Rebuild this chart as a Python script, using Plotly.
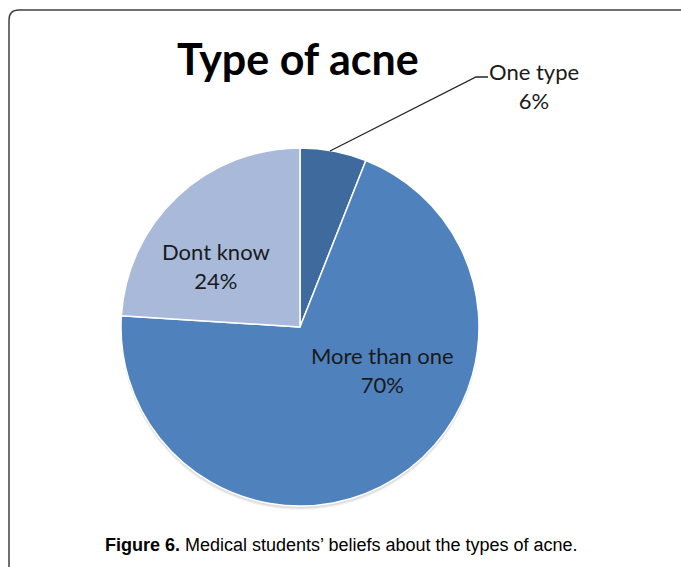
import plotly.graph_objects as go

# Survey answers: how many types of acne exist?
categories = ["One type", "More than one", "Dont know"]
shares = [6, 70, 24]
colors = ["#3F6A9E", "#4F81BD", "#A8B9D9"]

W, H = 681, 567
cx, cy, r = 300, 327, 179  # pie centre and radius in pixels


def px(x):
    return x / W


def py(y):
    return 1 - y / H


fig = go.Figure()
fig.add_trace(go.Pie(
    labels=categories,
    values=shares,
    sort=False,
    direction="clockwise",
    rotation=0,
    marker=dict(colors=colors, line=dict(color="white", width=1.5)),
    textinfo="none",
    hoverinfo="label+percent",
    showlegend=False,
    domain=dict(x=[px(cx - r), px(cx + r)], y=[py(cy + r), py(cy - r)]),
))

shapes = []
# soft drop shadow under the pie
for off, col in [(4, "rgba(0,0,0,0.06)"), (2.5, "rgba(0,0,0,0.08)")]:
    shapes.append(dict(type="circle", xref="paper", yref="paper", layer="below",
                       x0=px(cx - r), x1=px(cx + r),
                       y0=py(cy + r + off), y1=py(cy - r + off),
                       line=dict(width=0), fillcolor=col))
# chart frame: top and left edges with a rounded corner
rad = 10
x0f, y0f = 9, 10
shapes.append(dict(
    type="path", xref="paper", yref="paper",
    path=(f"M {px(W + 2)},{py(y0f)} L {px(x0f + rad)},{py(y0f)} "
          f"Q {px(x0f)},{py(y0f)} {px(x0f)},{py(y0f + rad)} "
          f"L {px(x0f)},{py(H + 2)}"),
    line=dict(color="#404040", width=1.5),
))
# leader line for the small slice
shapes.append(dict(
    type="path", xref="paper", yref="paper",
    path=f"M {px(330)},{py(151)} L {px(476)},{py(77)} L {px(488)},{py(77)}",
    line=dict(color="#262626", width=1.3),
))

label_font = dict(family="Lato, Open Sans, sans-serif", size=22, color="#1a1a1a")
label_pos = {
    "One type": (534, 86),
    "More than one": (382, 370),
    "Dont know": (216, 266),
}
annotations = []
for name, val in zip(categories, shares):
    lx, ly = label_pos[name]
    annotations.append(dict(
        x=px(lx), y=py(ly), xref="paper", yref="paper",
        xanchor="center", yanchor="middle",
        text=f"{name}<br>{val}%", showarrow=False,
        font=label_font, align="center",
    ))

annotations.append(dict(
    x=px(298), y=py(58), xref="paper", yref="paper",
    xanchor="center", yanchor="middle",
    text="<b>Type of acne</b>", showarrow=False,
    font=dict(family="Lato, Open Sans, sans-serif", size=43, color="black"),
))
annotations.append(dict(
    x=px(341), y=py(545), xref="paper", yref="paper",
    xanchor="center", yanchor="middle",
    text="<b>Figure 6.</b> Medical students’ beliefs about the types of acne.",
    showarrow=False,
    font=dict(family="Liberation Sans, Arial, sans-serif", size=18, color="black"),
))

fig.update_layout(
    width=W, height=H,
    margin=dict(l=0, r=0, t=0, b=0),
    paper_bgcolor="white",
    plot_bgcolor="white",
    shapes=shapes,
    annotations=annotations,
)

fig.write_html("out.html")
